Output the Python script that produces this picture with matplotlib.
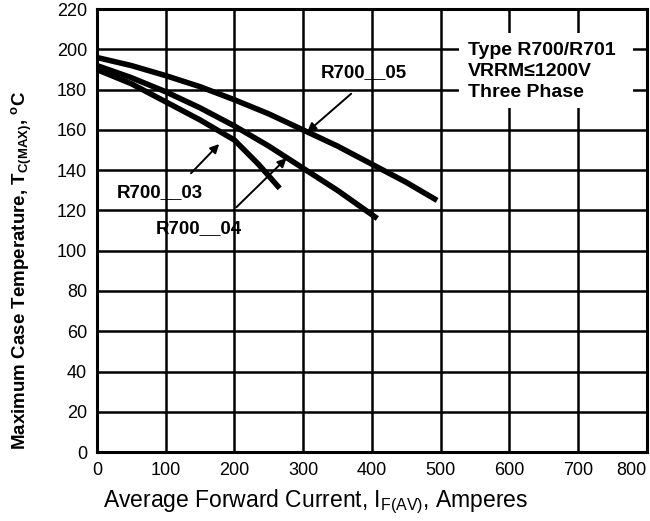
import numpy as np
import matplotlib.pyplot as plt
from matplotlib.patches import Rectangle

plt.rcParams['font.family'] = ['Liberation Sans', 'DejaVu Sans']
plt.rcParams['mathtext.default'] = 'regular'

# derating curves (current A, case temp C)
i_03 = [0, 50, 100, 150, 200, 235, 266]
t_03 = [190, 183, 174, 165, 155, 143, 131]
i_04 = [0, 50, 100, 150, 200, 250, 300, 350, 408]
t_04 = [192, 186, 179, 171, 162, 152, 141, 130, 116]
i_05 = [0, 50, 100, 150, 200, 250, 300, 350, 400, 450, 495]
t_05 = [196, 192, 187, 181.5, 175, 168, 160, 152, 143, 134, 125]

xticks = [0, 100, 200, 300, 400, 500, 600, 700, 800]
yticks = [0, 20, 40, 60, 80, 100, 120, 140, 160, 180, 200, 220]

fig = plt.figure(figsize=(6.5, 5.21), dpi=100)
ax = fig.add_axes([0.149, 0.1324, 0.846, 0.850])

ax.set_xlim(0, 800)
ax.set_ylim(0, 220)
ax.set_xticks(xticks)
ax.set_yticks(yticks)
ax.grid(True, color='black', linewidth=1.8)
for s in ax.spines.values():
    s.set_linewidth(2.2)
    s.set_zorder(5)
ax.tick_params(length=0, labelsize=13, pad=7)
ax.get_xticklabels()[-1].set_horizontalalignment('right')

for x, y in [(i_03, t_03), (i_04, t_04), (i_05, t_05)]:
    ax.plot(x, y, color='black', linewidth=4, solid_capstyle='butt', zorder=3)

# arrows pointing from labels to curves
arrow = dict(arrowstyle='-|>', color='black', lw=1.4, mutation_scale=13,
             shrinkA=0, shrinkB=0)
ax.annotate('', xy=(306, 159), xytext=(370, 178), arrowprops=arrow, zorder=4)
ax.annotate('', xy=(178, 153), xytext=(137, 138.5), arrowprops=arrow, zorder=4)
ax.annotate('', xy=(276, 146), xytext=(203, 121.6), arrowprops=arrow, zorder=4)

lab = dict(fontsize=13.5, fontweight='bold', ha='center', va='center', zorder=4)
ax.text(389, 188.5, 'R700__05', **lab)
ax.text(91, 129, 'R700__03', **lab)
ax.text(149, 111, 'R700__04', **lab)

# note box, blanking the grid behind it
ax.add_patch(Rectangle((527, 171), 253, 37, facecolor='white', edgecolor='none', zorder=2))
ax.text(540, 189, 'Type R700/R701\nVRRM\u22641200V\nThree Phase',
        fontsize=14, fontweight='bold', ha='left', va='center',
        linespacing=1.28, zorder=4)

ax.set_xlabel('Average Forward Current, I$_{F(AV)}$, Amperes', fontsize=16.5)
ax.xaxis.set_label_coords(0.398, -0.08)
ax.set_ylabel('Maximum Case Temperature, T$_{C(MAX)}$, $^{o}$C', fontsize=13.5,
              fontweight='bold')
ax.yaxis.set_label_coords(-0.115, 0.41)

fig.savefig('out.png', dpi=100)
